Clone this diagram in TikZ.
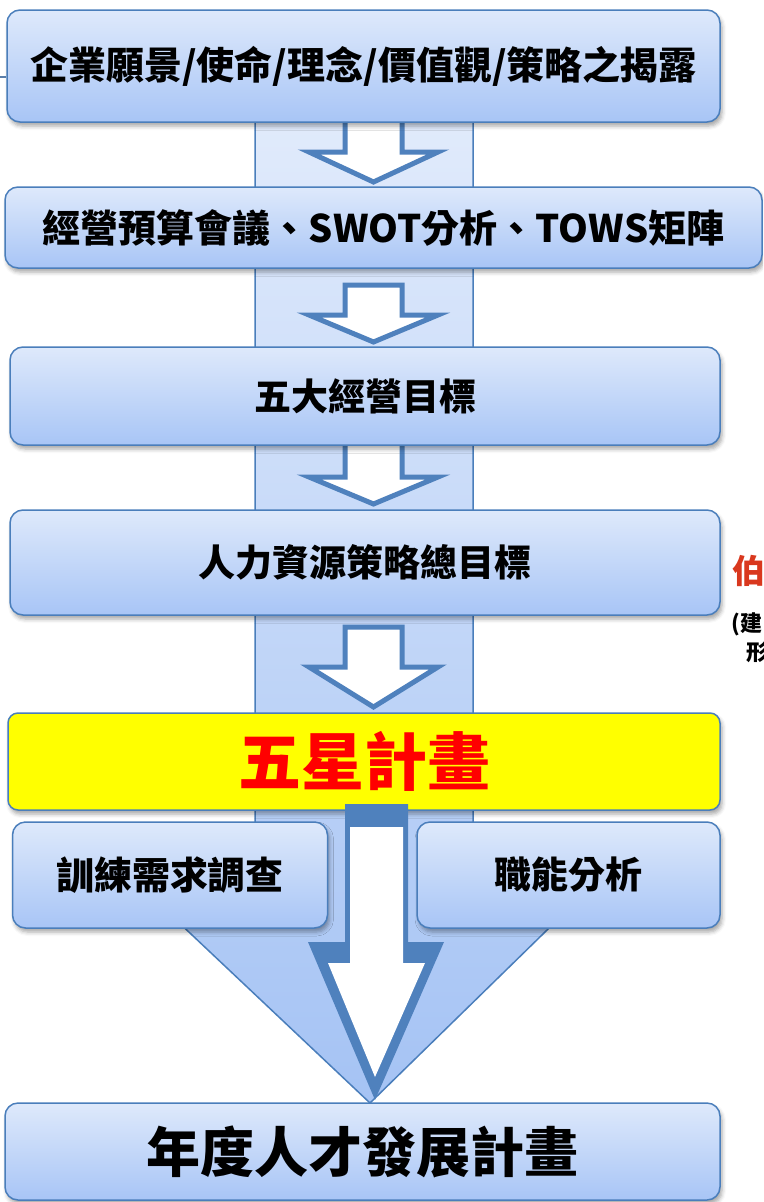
\documentclass[tikz,border=0pt]{standalone}
\usepackage{fontspec}
\newfontfamily\cjk{Noto Sans CJK TC}
\usetikzlibrary{shadows.blur}
\definecolor{bord}{HTML}{4A7EBB}
\definecolor{btop}{HTML}{DEE9FB}
\definecolor{bbot}{HTML}{A8C5F6}
\definecolor{bandtop}{HTML}{E4EDFC}
\definecolor{bandbot}{HTML}{A5C3F4}
\definecolor{arrowc}{HTML}{4F81BD}
\definecolor{redtxt}{HTML}{D9381E}
\tikzset{
  box/.style={draw=bord, line width=1.5pt, rounded corners=13pt, top color=btop, bottom color=bbot,
    inner sep=0pt, align=center, font=\cjk\bfseries\fontsize{37}{42}\selectfont,
    blur shadow={shadow xshift=2pt, shadow yshift=-4pt, shadow blur radius=4pt, shadow opacity=35}},
  smallarrow/.style={draw=arrowc, line width=5pt, fill=white, line join=miter},
}
\begin{document}
\begin{tikzpicture}[x=1pt,y=-1pt]
\useasboundingbox (0,0) rectangle (763,1202);
\clip (0,0) rectangle (763,1202);
% band + wedge
\path[draw=bord, line width=1.5pt, top color=bandtop, bottom color=bandbot]
  (255,60) -- (255,860) -- (112.6,860) -- (370,1103) -- (618.7,860) -- (473,860) -- (473,60) -- cycle;
% small arrows
\path[smallarrow] (345,118) -- (402,118) -- (402,152) -- (438,152) -- (373.5,182) -- (309,152) -- (345,152) -- cycle;
\path[smallarrow] (345,285) -- (402,285) -- (402,315) -- (438,315) -- (373.5,342) -- (309,315) -- (345,315) -- cycle;
\path[smallarrow] (345,441) -- (402,441) -- (402,477) -- (438,477) -- (373.5,504) -- (309,477) -- (345,477) -- cycle;
\path[smallarrow] (345,627) -- (402,627) -- (402,667) -- (438,667) -- (373.5,707) -- (309,667) -- (345,667) -- cycle;
% stub at left
\coordinate (stub) at (0,77);
% boxes
\node[box, minimum width=713pt, minimum height=112pt, font=\cjk\bfseries\fontsize{38}{42}\selectfont] (b1) at (363.5,66) {企業願景/使命/理念/價值觀/策略之揭露};
\draw[draw=bord!70!gray, line width=2.5pt] (stub) -- (b1.west |- stub);
\node[box, minimum width=757pt, minimum height=81pt, font=\cjk\bfseries\fontsize{38}{42}\selectfont] (b2) at (383.5,227.5) {經營預算會議、SWOT分析、TOWS矩陣};
\node[box, minimum width=710pt, minimum height=98pt] (b3) at (365,396) {五大經營目標};
\node[box, minimum width=710pt, minimum height=105pt] (b4) at (365,562.5) {人力資源策略總目標};
\node[box, minimum width=712pt, minimum height=97pt, rounded corners=10pt, top color=yellow, bottom color=yellow, text=red,
  font=\cjk\bfseries\fontsize{63}{68}\selectfont] (b5) at (364,761.5) {五星計畫};
\node[box, minimum width=315pt, minimum height=106pt, font=\cjk\bfseries\fontsize{38}{42}\selectfont] (b6) at (170,875) {訓練需求調查};
\node[box, minimum width=303pt, minimum height=106pt] (b7) at (568.5,875) {職能分析};
\node[box, minimum width=715pt, minimum height=97pt, font=\cjk\bfseries\fontsize{54}{60}\selectfont] (b8) at (362.5,1151.5) {年度人才發展計畫};
% big white arrow
\fill[arrowc] (345,804) -- (408,804) -- (408,942) -- (444,942) -- (375,1100) -- (308,942) -- (345,942) -- cycle;
\fill[white] (350,827) -- (403,827) -- (403,963) -- (425,963) -- (375,1077) -- (328,963) -- (350,963) -- cycle;
% cut-off text at right
\node[anchor=north west, inner sep=0pt, text=redtxt, font=\cjk\bfseries\fontsize{33}{36}\selectfont] (t1) at (732,555) {伯};
\node[anchor=north west, inner sep=0pt, font=\cjk\bfseries\fontsize{22}{24}\selectfont] (t2) at (731,613) {(建};
\node[anchor=north west, inner sep=0pt, font=\cjk\bfseries\fontsize{22}{24}\selectfont] (t3) at (746,642) {形};
\end{tikzpicture}
\end{document}
